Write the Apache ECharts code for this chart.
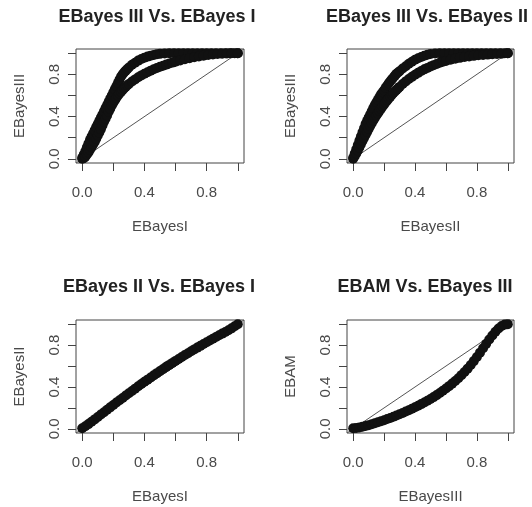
<!DOCTYPE html>
<html><head><meta charset="utf-8">
<script src="https://cdn.jsdelivr.net/npm/echarts@6/dist/echarts.min.js"></script>
<style>html,body{margin:0;padding:0;background:#fff;}#c{width:532px;height:507px;}</style>
</head><body><div id="c"></div>
<script>
// ---- text ----
const titles = ['EBayes III Vs. EBayes I', 'EBayes III Vs. EBayes II', 'EBayes II Vs. EBayes I', 'EBAM Vs. EBayes III'];
const xNames = ['EBayesI', 'EBayesII', 'EBayesI', 'EBayesIII'];
const yNames = ['EBayesIII', 'EBayesIII', 'EBayesII', 'EBAM'];
const tickValues = [0, 0.2, 0.4, 0.6, 0.8, 1.0];
const tickLabels = [0, 0.4, 0.8];
// reference line y = x (abline), across the padded axis range
const diagLine = [[-0.04, -0.04], [1.04, 1.04]];

// ---- panel 1: EBayes III vs EBayes I (two branches) ----
const p1Upper = [[0.00,0.01],[0.01,0.04],[0.02,0.07],[0.03,0.11],[0.04,0.145],[0.05,0.18],[0.06,0.21],[0.07,0.24],[0.08,0.27],[0.09,0.30],[0.10,0.33],[0.11,0.36],[0.12,0.39],[0.13,0.42],[0.14,0.45],[0.15,0.48],[0.16,0.51],[0.17,0.54],[0.18,0.57],[0.19,0.60],[0.20,0.63],[0.21,0.66],[0.22,0.69],[0.23,0.72],[0.24,0.75],[0.25,0.78],[0.26,0.80],[0.27,0.82],[0.28,0.835],[0.29,0.85],[0.30,0.865],[0.32,0.89],[0.34,0.91],[0.36,0.93],[0.38,0.945],[0.40,0.958],[0.42,0.968],[0.44,0.977],[0.46,0.984],[0.48,0.99],[0.50,0.994],[0.53,0.998],[0.56,1.0],[0.59,1.0],[0.62,1.0],[0.65,1.0],[0.68,1.0],[0.71,1.0],[0.74,1.0],[0.77,1.0],[0.80,1.0],[0.83,1.0],[0.86,1.0],[0.89,1.0],[0.92,1.0],[0.95,1.0],[0.98,1.0],[1.0,1.0]];
const p1Lower = [[0.00,0.00],[0.01,0.005],[0.02,0.02],[0.03,0.04],[0.04,0.06],[0.05,0.085],[0.06,0.11],[0.07,0.135],[0.08,0.16],[0.09,0.19],[0.10,0.22],[0.11,0.25],[0.12,0.28],[0.13,0.315],[0.14,0.35],[0.15,0.38],[0.16,0.41],[0.17,0.445],[0.18,0.475],[0.19,0.505],[0.20,0.53],[0.21,0.555],[0.22,0.578],[0.23,0.60],[0.24,0.618],[0.25,0.636],[0.26,0.652],[0.27,0.668],[0.28,0.682],[0.29,0.696],[0.30,0.708],[0.32,0.732],[0.34,0.752],[0.36,0.772],[0.38,0.79],[0.40,0.806],[0.42,0.82],[0.44,0.835],[0.46,0.848],[0.48,0.86],[0.50,0.872],[0.52,0.882],[0.54,0.892],[0.56,0.902],[0.58,0.911],[0.60,0.92],[0.63,0.932],[0.66,0.943],[0.69,0.953],[0.72,0.962],[0.75,0.97],[0.78,0.977],[0.81,0.983],[0.84,0.988],[0.87,0.992],[0.90,0.995],[0.93,0.997],[0.96,0.999],[1.0,1.0]];

// ---- panel 2: EBayes III vs EBayes II (two branches) ----
const p2Upper = [[0.00,0.01],[0.01,0.05],[0.02,0.09],[0.03,0.13],[0.04,0.17],[0.05,0.21],[0.06,0.25],[0.07,0.29],[0.08,0.33],[0.09,0.36],[0.10,0.39],[0.11,0.42],[0.12,0.45],[0.13,0.48],[0.14,0.51],[0.15,0.535],[0.16,0.56],[0.17,0.585],[0.18,0.61],[0.19,0.63],[0.20,0.65],[0.21,0.673],[0.22,0.695],[0.23,0.715],[0.24,0.735],[0.25,0.752],[0.26,0.77],[0.27,0.788],[0.28,0.805],[0.29,0.818],[0.30,0.83],[0.32,0.855],[0.34,0.877],[0.36,0.90],[0.38,0.92],[0.40,0.938],[0.42,0.952],[0.44,0.965],[0.46,0.976],[0.48,0.985],[0.50,0.992],[0.53,0.997],[0.56,1.0],[0.59,1.0],[0.62,1.0],[0.65,1.0],[0.68,1.0],[0.71,1.0],[0.74,1.0],[0.77,1.0],[0.80,1.0],[0.83,1.0],[0.86,1.0],[0.89,1.0],[0.92,1.0],[0.95,1.0],[0.98,1.0],[1.0,1.0]];
const p2Lower = [[0.00,0.00],[0.01,0.025],[0.02,0.05],[0.03,0.078],[0.04,0.108],[0.05,0.138],[0.06,0.168],[0.07,0.198],[0.08,0.226],[0.09,0.254],[0.10,0.282],[0.11,0.31],[0.12,0.337],[0.13,0.362],[0.14,0.387],[0.15,0.41],[0.16,0.432],[0.17,0.454],[0.18,0.475],[0.19,0.495],[0.20,0.515],[0.21,0.535],[0.22,0.553],[0.23,0.571],[0.24,0.589],[0.25,0.606],[0.26,0.623],[0.27,0.638],[0.28,0.653],[0.29,0.667],[0.30,0.681],[0.32,0.708],[0.34,0.733],[0.36,0.755],[0.38,0.776],[0.40,0.796],[0.42,0.814],[0.44,0.831],[0.46,0.847],[0.48,0.861],[0.50,0.875],[0.52,0.887],[0.54,0.898],[0.56,0.909],[0.58,0.919],[0.60,0.927],[0.63,0.938],[0.66,0.947],[0.69,0.956],[0.72,0.964],[0.75,0.97],[0.78,0.975],[0.81,0.98],[0.84,0.984],[0.87,0.987],[0.90,0.99],[0.93,0.993],[0.96,0.996],[1.0,1.0]];

// ---- panel 3: EBayes II vs EBayes I ----
const p3Band = [[0.00,0.005],[0.02,0.025],[0.04,0.045],[0.06,0.067],[0.08,0.09],[0.10,0.113],[0.12,0.136],[0.14,0.159],[0.16,0.182],[0.18,0.205],[0.20,0.228],[0.22,0.251],[0.24,0.273],[0.26,0.295],[0.28,0.318],[0.30,0.34],[0.32,0.362],[0.34,0.384],[0.36,0.406],[0.38,0.428],[0.40,0.449],[0.42,0.47],[0.44,0.491],[0.46,0.512],[0.48,0.532],[0.50,0.552],[0.52,0.572],[0.54,0.592],[0.56,0.611],[0.58,0.63],[0.60,0.649],[0.62,0.668],[0.64,0.687],[0.66,0.705],[0.68,0.723],[0.70,0.741],[0.72,0.759],[0.74,0.776],[0.76,0.793],[0.78,0.81],[0.80,0.827],[0.82,0.844],[0.84,0.861],[0.86,0.877],[0.88,0.894],[0.90,0.91],[0.92,0.926],[0.94,0.942],[0.96,0.96],[0.98,0.98],[1.0,1.0]];

// ---- panel 4: EBAM vs EBayes III ----
const p4Band = [[0.00,0.005],[0.02,0.008],[0.04,0.013],[0.06,0.02],[0.08,0.027],[0.10,0.035],[0.12,0.044],[0.14,0.053],[0.16,0.062],[0.18,0.072],[0.20,0.082],[0.22,0.093],[0.24,0.104],[0.26,0.115],[0.28,0.127],[0.30,0.139],[0.32,0.152],[0.34,0.165],[0.36,0.178],[0.38,0.192],[0.40,0.206],[0.42,0.221],[0.44,0.236],[0.46,0.252],[0.48,0.268],[0.50,0.285],[0.52,0.303],[0.54,0.322],[0.56,0.342],[0.58,0.363],[0.60,0.385],[0.62,0.408],[0.64,0.432],[0.66,0.457],[0.68,0.484],[0.70,0.513],[0.72,0.543],[0.74,0.575],[0.76,0.61],[0.78,0.647],[0.80,0.687],[0.82,0.728],[0.84,0.77],[0.86,0.812],[0.88,0.853],[0.90,0.892],[0.92,0.928],[0.94,0.958],[0.96,0.982],[0.98,0.996],[1.0,1.0]];

const panelSeries = [[p1Upper, p1Lower], [p2Upper, p2Lower], [p3Band], [p4Band]];

// ---- layout ----
const grids = [
  {left: 76, top: 49, width: 168, height: 114},
  {left: 347, top: 49, width: 167, height: 114},
  {left: 76, top: 320, width: 168, height: 113},
  {left: 347, top: 320, width: 167, height: 113}
];
const titlePos = [[157, 8], [427, 8], [159, 278], [425, 278]];
const FONT = '"Liberation Sans", Arial, sans-serif';
const TXT = '#4a4a4a';

function makeAxis(gi, name, isX) {
  return {
    type: 'value', gridIndex: gi, min: -0.04, max: 1.04,
    name: name, nameLocation: 'middle', nameGap: isX ? 56 : 49,
    nameTextStyle: {fontFamily: FONT, fontSize: 15, color: TXT},
    axisLine: {show: false, onZero: false},
    axisTick: {show: true, inside: false, length: 8, customValues: tickValues, lineStyle: {color: '#444', width: 1}},
    axisLabel: {show: true, customValues: tickLabels, formatter: v => Number(v).toFixed(1),
      fontFamily: FONT, fontSize: 15, color: TXT, margin: isX ? 22 : 14, rotate: isX ? 0 : 90},
    splitLine: {show: false}
  };
}

const series = [];
panelSeries.forEach((sets, gi) => {
  series.push({type: 'line', xAxisIndex: gi, yAxisIndex: gi, data: diagLine, symbol: 'none',
    lineStyle: {color: '#555', width: 1}, z: 1, silent: true});
  sets.forEach(d => series.push({type: 'scatter', xAxisIndex: gi, yAxisIndex: gi, data: d,
    symbol: 'circle', symbolSize: 10, itemStyle: {color: '#111', opacity: 1}, z: 2, silent: true}));
});

const option = {
  animation: false,
  backgroundColor: '#fff',
  title: titles.map((t, i) => ({text: t, left: titlePos[i][0], top: titlePos[i][1], textAlign: 'center', padding: 0,
    textStyle: {fontFamily: FONT, fontSize: 18, fontWeight: 'bold', color: '#222'}})),
  grid: grids.map(g => Object.assign({show: true, borderColor: '#444', borderWidth: 1, backgroundColor: 'transparent', containLabel: false}, g)),
  xAxis: xNames.map((n, i) => makeAxis(i, n, true)),
  yAxis: yNames.map((n, i) => makeAxis(i, n, false)),
  series: series
};
const chart = echarts.init(document.getElementById('c'), null, {renderer: 'canvas'});
chart.setOption(option);
</script></body></html>
